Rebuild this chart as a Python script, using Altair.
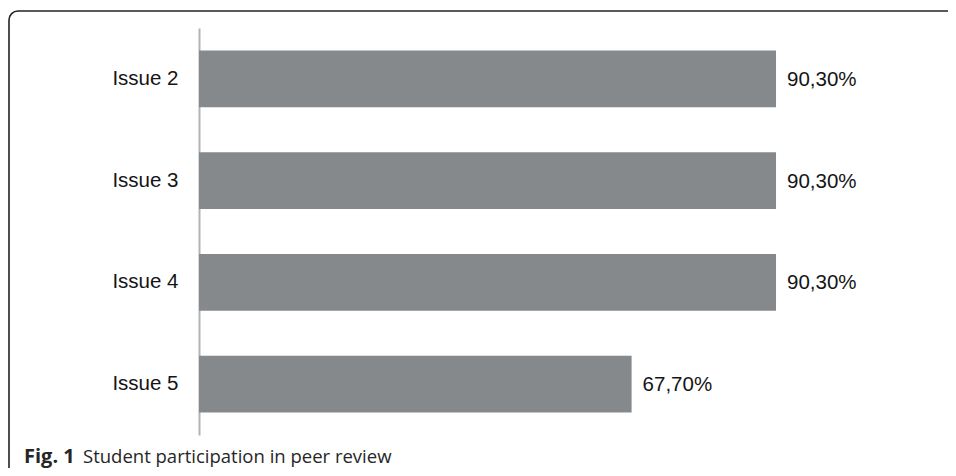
import altair as alt
import pandas as pd
import math

categories = ["Issue 2", "Issue 3", "Issue 4", "Issue 5"]
values = [90.3, 90.3, 90.3, 67.7]
labels = ["90,30%", "90,30%", "90,30%", "67,70%"]
caption_bold = "Fig. 1"
caption_text = "Student participation in peer review"

df = pd.DataFrame({"issue": categories, "value": values, "label": labels})

BAR = "#86898c"
FONT = "Liberation Sans"
FRAME = "#222222"
R = 9
W, H = 639, 407
PAD = {"left": 191, "top": 20, "right": 110, "bottom": 33}

y_enc = alt.Y(
    "issue:N",
    sort=categories,
    scale=alt.Scale(paddingInner=0.44, paddingOuter=0.22),
    axis=alt.Axis(
        title=None,
        ticks=False,
        grid=False,
        labelFont=FONT,
        labelFontSize=20.5,
        labelColor="#151515",
        labelPadding=21,
        domainColor="#b3b3b3",
        domainWidth=2,
    ),
)
x_enc = alt.X("value:Q", scale=alt.Scale(domain=[0, 100], nice=False), axis=None)

bars = alt.Chart(df).mark_bar(color=BAR).encode(y=y_enc, x=x_enc)

text = alt.Chart(df).mark_text(
    align="left", baseline="middle", dx=11, dy=1, font=FONT, fontSize=20.5, color="#151515"
).encode(y=alt.Y("issue:N", sort=categories), x="value:Q", text="label:N")

one = pd.DataFrame({"k": [0]})
top_line = alt.Chart(one).mark_rule(color=FRAME, strokeWidth=1.6).encode(
    x=alt.value(-190 + R), x2=alt.value(W + PAD["right"]), y=alt.value(-17)
)
left_line = alt.Chart(one).mark_rule(color=FRAME, strokeWidth=1.6).encode(
    x=alt.value(-190), y=alt.value(-17 + R), y2=alt.value(H + PAD["bottom"])
)
corner = alt.Chart(one).mark_arc(
    color=FRAME, innerRadius=R - 0.8, outerRadius=R + 0.8,
    theta=1.5 * math.pi, theta2=2 * math.pi
).encode(x=alt.value(-190 + R), y=alt.value(-17 + R))

cap1 = alt.Chart(pd.DataFrame({"t": [caption_bold]})).mark_text(
    align="left", baseline="alphabetic", font="Open Sans", fontSize=20,
    fontWeight="bold", color="#262626"
).encode(x=alt.value(-175), y=alt.value(435), text="t:N")

cap2 = alt.Chart(pd.DataFrame({"t": [caption_text]})).mark_text(
    align="left", baseline="alphabetic", font="Open Sans", fontSize=18.5,
    color="#262626"
).encode(x=alt.value(-116), y=alt.value(435), text="t:N")

chart = alt.layer(top_line, left_line, corner, bars, text, cap1, cap2).properties(
    width=W,
    height=H,
    autosize=alt.AutoSizeParams(type="none"),
    padding=PAD,
    background="white",
).configure_view(stroke=None)

chart.save("out.html", embed_options={"renderer": "svg", "actions": False})
